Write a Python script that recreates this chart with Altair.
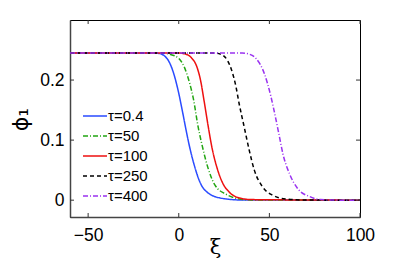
import altair as alt
import pandas as pd

series = ["τ=0.4", "τ=50", "τ=100", "τ=250", "τ=400"]
colors = ["#2a4bff", "#22a512", "#ee1010", "#000000", "#9a32f0"]
dashes = [[1, 0], [5, 2, 1, 2], [1, 0], [4, 3], [5, 2, 1, 2]]

xi_04 = [-60, -15, -11, -6.5, -2.8, 0, 1.9, 3.7, 5.6, 8.3, 12, 16.7, 24, 35, 100]
phi_04 = [0.245, 0.245, 0.2443, 0.236, 0.211, 0.178, 0.15, 0.122, 0.094, 0.061, 0.028, 0.011, 0.003, 0.0003, 0]

xi_50 = [-60, -10, -5, 0, 3, 6, 8, 10.7, 13, 16, 20, 26, 32, 40, 100]
phi_50 = [0.245, 0.245, 0.243, 0.236, 0.222, 0.195, 0.17, 0.122, 0.09, 0.055, 0.025, 0.01, 0.003, 0.0005, 0]

xi_100 = [-60, 0, 4, 7, 10, 12, 14, 16.3, 18.5, 21, 24, 28, 33, 40, 100]
phi_100 = [0.245, 0.245, 0.243, 0.237, 0.222, 0.2, 0.165, 0.122, 0.085, 0.055, 0.03, 0.013, 0.004, 0.001, 0]

xi_250 = [-60, 20, 24, 27, 29, 31.5, 33.3, 36.1, 38.9, 41.7, 46.3, 52, 59, 70, 100]
phi_250 = [0.245, 0.245, 0.242, 0.232, 0.218, 0.19, 0.161, 0.122, 0.083, 0.05, 0.022, 0.008, 0.002, 0.0002, 0]

xi_400 = [-60, 35, 39, 42.6, 47.2, 50.9, 53.3, 55.2, 57.4, 61.1, 65.7, 72.2, 78, 88, 100]
phi_400 = [0.245, 0.245, 0.243, 0.236, 0.211, 0.172, 0.139, 0.111, 0.078, 0.044, 0.019, 0.006, 0.001, 0.0001, 0]

x_ticks = [-50, 0, 50, 100]
y_ticks = [0, 0.1, 0.2]

rows = []
for name, xs, ys in zip(series, [xi_04, xi_50, xi_100, xi_250, xi_400],
                        [phi_04, phi_50, phi_100, phi_250, phi_400]):
    for a, b in zip(xs, ys):
        rows.append({"series": name, "xi": a, "phi": b})
df = pd.DataFrame(rows)

W, H = 290, 197
FONT = "Liberation Sans"

xscale = alt.Scale(domain=[-60, 100], nice=False, zero=False)
yscale = alt.Scale(domain=[-0.028, 0.3], nice=False, zero=False)

leg = dict(title=None, orient="none", legendX=12, legendY=88,
           symbolType="stroke", symbolSize=576, symbolStrokeWidth=1.5,
           labelFontSize=15, labelFont=FONT, labelOffset=0,
           clipHeight=16, rowPadding=4, labelColor="#000")

lines = alt.Chart(df).mark_line(strokeWidth=1.5, interpolate="monotone").encode(
    x=alt.X("xi:Q", scale=xscale,
            axis=alt.Axis(values=x_ticks, title="ξ", ticks=False, labelPadding=9, grid=False,
                          labelFlush=False,
                          labelFont=FONT, labelFontSize=17.5, labelColor="#000",
                          domainColor="#444", domainWidth=1.5,
                          titleFontSize=21, titleFont="DejaVu Serif", titleFontWeight="normal",
                          titleColor="#000",
                          titleY=36, titleBaseline="alphabetic", titlePadding=0)),
    y=alt.Y("phi:Q", scale=yscale,
            axis=alt.Axis(values=y_ticks, format=".1~f", title="ϕ₁", ticks=False, labelPadding=6,
                          labelFlush=False,
                          grid=False, labelFont=FONT, labelFontSize=17.5, labelColor="#000",
                          domainColor="#444", domainWidth=1.5,
                          titleFontSize=22, titleFont="DejaVu Sans", titleFontWeight="normal",
                          titleColor="#000",
                          titleX=-50, titleY=99, titleAngle=-90, titleBaseline="middle",
                          titleAlign="center")),
    color=alt.Color("series:N", scale=alt.Scale(domain=series, range=colors),
                    legend=alt.Legend(**leg)),
    strokeDash=alt.StrokeDash("series:N", scale=alt.Scale(domain=series, range=dashes),
                              legend=alt.Legend(**leg)),
)

xt = pd.DataFrame({"v": x_ticks})
yt = pd.DataFrame({"v": y_ticks})
tick_color = "#333"
xb = alt.Chart(xt).mark_rule(color=tick_color, strokeWidth=1).encode(
    x=alt.X("v:Q", scale=xscale), y=alt.value(H), y2=alt.value(H - 4))
xtp = alt.Chart(xt).mark_rule(color=tick_color, strokeWidth=1).encode(
    x=alt.X("v:Q", scale=xscale), y=alt.value(0), y2=alt.value(4))
yl = alt.Chart(yt).mark_rule(color=tick_color, strokeWidth=1).encode(
    y=alt.Y("v:Q", scale=yscale), x=alt.value(0), x2=alt.value(4))
yr = alt.Chart(yt).mark_rule(color=tick_color, strokeWidth=1).encode(
    y=alt.Y("v:Q", scale=yscale), x=alt.value(W), x2=alt.value(W - 4))

chart = alt.layer(lines, xb, xtp, yl, yr).properties(
    width=W, height=H,
    autosize=alt.AutoSizeParams(type="none"),
    padding={"left": 62, "top": 12, "right": 30, "bottom": 46},
    background="white",
).configure_view(stroke="#000", strokeWidth=1)

chart.save("out.html", embed_options={"renderer": "svg", "actions": False})
